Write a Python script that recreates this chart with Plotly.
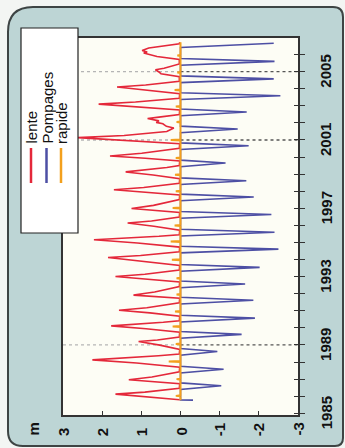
import plotly.graph_objects as go

# Décomposition du niveau piézométrique (m) en trois composantes
lente_t = [
    1985.79, 1985.97, 1986.12, 1986.24, 1986.36, 1986.46,
    1986.73, 1986.86, 1986.96, 1987.12, 1987.29, 1987.43,
    1987.70, 1987.94, 1988.13, 1988.25, 1988.37, 1988.47,
    1988.74, 1988.99, 1989.20, 1989.29, 1989.39, 1989.47,
    1989.74, 1989.95, 1990.12, 1990.23, 1990.33, 1990.42,
    1990.69, 1990.88, 1991.03, 1991.18, 1991.34, 1991.47,
    1991.74, 1991.84, 1991.92, 1992.10, 1992.27, 1992.42,
    1992.69, 1992.87, 1993.01, 1993.14, 1993.28, 1993.39,
    1993.66, 1993.91, 1994.12, 1994.24, 1994.36, 1994.46,
    1994.73, 1994.97, 1995.16, 1995.26, 1995.36, 1995.45,
    1995.72, 1995.95, 1996.14, 1996.26, 1996.39, 1996.49,
    1996.76, 1996.89, 1996.99, 1997.17, 1997.35, 1997.51,
    1997.78, 1997.95, 1998.09, 1998.22, 1998.35, 1998.46,
    1998.73, 1998.95, 1999.13, 1999.26, 1999.39, 1999.50,
    1999.77, 1999.93, 2000.06, 2000.22, 2000.38, 2000.51,
    2000.78, 2000.98, 2001.14, 2001.26, 2001.40, 2001.50,
    2001.70, 2001.80, 2001.95, 2002.03, 2002.12, 2002.26, 2002.34, 2002.49,
    2002.76, 2002.95, 2003.10, 2003.22, 2003.34, 2003.44,
    2003.71, 2003.92, 2004.10, 2004.22, 2004.33, 2004.43,
    2004.70, 2004.88, 2004.98, 2005.11, 2005.20, 2005.32, 2005.45,
    2005.72, 2005.89, 2005.99, 2006.09, 2006.15, 2006.24, 2006.38, 2006.52, 2006.63, 2006.72,
]
lente_v = [
    0.02, 0.83, 1.66, 0.91, 0.42, 0.03,
    0.02, 0.66, 1.32, 0.73, 0.33, 0.03,
    0.02, 1.12, 2.25, 1.24, 0.56, 0.03,
    0.02, 0.53, 1.07, 0.59, 0.27, 0.03,
    0.02, 0.88, 1.77, 0.97, 0.44, 0.03,
    0.02, 0.78, 1.57, 0.86, 0.39, 0.03,
    0.02, 0.60, 1.20, 0.66, 0.30, 0.03,
    0.02, 0.83, 1.66, 0.91, 0.42, 0.03,
    0.02, 0.93, 1.85, 1.02, 0.46, 0.03,
    0.02, 1.10, 2.21, 1.22, 0.55, 0.03,
    0.02, 0.68, 1.35, 0.74, 0.34, 0.03,
    0.02, 0.63, 1.25, 0.69, 0.31, 0.03,
    0.02, 0.85, 1.70, 0.94, 0.43, 0.03,
    0.02, 0.70, 1.40, 0.77, 0.35, 0.03,
    0.02, 0.90, 1.80, 0.99, 0.45, 0.03,
    0.02, 1.31, 2.62, 1.44, 0.70, 0.35,
    0.17, 0.36, 0.45, 0.62, 0.55, 0.84, 0.55, 0.03,
    0.02, 1.05, 2.09, 1.15, 0.52, 0.03,
    0.02, 0.81, 1.62, 0.89, 0.41, 0.03,
    0.03, 0.50, 0.55, 0.64, 0.42, 0.20, 0.03,
    0.03, 0.60, 0.77, 0.94, 0.85, 0.98, 0.81, 0.34, 0.03, 0.02,
]

pompages_t = [
    1985.77, 1985.78,
    1986.39, 1986.61, 1986.78,
    1987.36, 1987.58, 1987.75,
    1988.40, 1988.62, 1988.79,
    1989.40, 1989.62, 1989.79,
    1990.35, 1990.57, 1990.74,
    1991.40, 1991.62, 1991.79,
    1992.35, 1992.57, 1992.74,
    1993.32, 1993.54, 1993.71,
    1994.39, 1994.61, 1994.78,
    1995.38, 1995.60, 1995.77,
    1996.42, 1996.64, 1996.81,
    1997.44, 1997.66, 1997.83,
    1998.39, 1998.61, 1998.78,
    1999.43, 1999.65, 1999.82,
    2000.44, 2000.66, 2000.83,
    2001.42, 2001.64, 2001.81,
    2002.42, 2002.64, 2002.81,
    2003.37, 2003.59, 2003.76,
    2004.36, 2004.58, 2004.75,
    2005.38, 2005.60, 2005.77,
    2006.41, 2006.66,
]
pompages_v = [
    -0.32, 0.0,
    0.0, -1.04, 0.0,
    0.0, -1.10, 0.0,
    0.0, -0.94, 0.0,
    0.0, -1.56, 0.0,
    0.0, -1.90, 0.0,
    0.0, -1.86, 0.0,
    0.0, -1.65, 0.0,
    0.0, -2.02, 0.0,
    0.0, -2.50, 0.0,
    0.0, -2.40, 0.0,
    0.0, -2.32, 0.0,
    0.0, -1.87, 0.0,
    0.0, -1.68, 0.0,
    0.0, -1.15, 0.0,
    0.0, -1.74, 0.0,
    0.0, -1.46, 0.0,
    0.0, -1.69, 0.0,
    0.0, -2.55, 0.0,
    0.0, -2.38, 0.0,
    0.0, -2.40, 0.0,
    0.0, -2.38,
]

rapide_t = [
    1985.77,
    1985.99, 1986.02, 1986.05,
    1986.97, 1987.00, 1987.03,
    1988.00, 1988.03, 1988.06,
    1989.02, 1989.05, 1989.08,
    1990.05, 1990.08, 1990.11,
    1990.93, 1990.96, 1990.99,
    1991.92, 1991.95, 1991.98,
    1992.87, 1992.90, 1992.93,
    1993.96, 1993.99, 1994.02,
    1995.03, 1995.06, 1995.09,
    1995.97, 1996.00, 1996.03,
    1996.99, 1997.02, 1997.05,
    1997.97, 1998.00, 1998.03,
    1998.93, 1998.96, 1998.99,
    1999.91, 1999.94, 1999.97,
    2000.97, 2001.00, 2001.03,
    2002.02, 2002.05, 2002.08,
    2002.93, 2002.96, 2002.99,
    2003.89, 2003.92, 2003.95,
    2004.92, 2004.95, 2004.98,
    2005.92, 2005.95, 2005.98,
    2006.72,
]
rapide_v = [
    0.0,
    0.0, 0.12, 0.0,
    0.0, 0.10, 0.0,
    0.0, 0.30, 0.0,
    0.0, 0.12, 0.0,
    0.0, 0.20, 0.0,
    0.0, 0.14, 0.0,
    0.0, 0.10, 0.0,
    0.0, 0.10, 0.0,
    0.0, 0.22, 0.0,
    0.0, 0.25, 0.0,
    0.0, 0.15, 0.0,
    0.0, 0.20, 0.0,
    0.0, 0.12, 0.0,
    0.0, 0.14, 0.0,
    0.0, 0.12, 0.0,
    0.0, 0.25, 0.0,
    0.0, 0.10, 0.0,
    0.0, 0.12, 0.0,
    0.0, 0.15, 0.0,
    0.0, 0.08, 0.0,
    0.0, 0.08, 0.0,
    0.0,
]

annees_ticks = list(range(1985, 2007))
annees_labels = [1985, 1989, 1993, 1997, 2001, 2005]
valeurs_ticks = [3, 2, 1, 0, -1, -2, -3]
reperes = [1989, 2001, 2005]

noms = ["lente", "Pompages", "rapide"]
couleurs = ["#e4283a", "#4d4fa4", "#f3a01d"]

# Page geometry (pixels) and conversion to paper coordinates
W, H = 345, 448
ML, MR, MT, MB = 63, 47, 38, 33
PW, PH = W - ML - MR, H - MT - MB


def fx(p):
    return (p - ML) / PW


def fy(p):
    return (H - MB - p) / PH


FONT = "Liberation Sans, Arial, sans-serif"

fig = go.Figure()
fig.add_trace(go.Scatter(x=lente_v, y=lente_t, mode="lines", name=noms[0],
                         line=dict(color=couleurs[0], width=1.6), showlegend=False))
fig.add_trace(go.Scatter(x=pompages_v, y=pompages_t, mode="lines", name=noms[1],
                         line=dict(color=couleurs[1], width=1.6), showlegend=False))
fig.add_trace(go.Scatter(x=rapide_v, y=rapide_t, mode="lines", name=noms[2],
                         line=dict(color=couleurs[2], width=2), showlegend=False))
fig.add_trace(go.Scatter(x=[None], y=[None], yaxis="y2", showlegend=False,
                         hoverinfo="skip"))

shapes = []

# rounded panel behind the chart
L, T, R, B = 8, 7, 343, 446
rtl, rtr, rbr, rbl = 25, 10, 8, 15
path = (
    f"M {fx(L)},{fy(T + rtl)} Q {fx(L)},{fy(T)} {fx(L + rtl)},{fy(T)} "
    f"L {fx(R - rtr)},{fy(T)} Q {fx(R)},{fy(T)} {fx(R)},{fy(T + rtr)} "
    f"L {fx(R)},{fy(B - rbr)} Q {fx(R)},{fy(B)} {fx(R - rbr)},{fy(B)} "
    f"L {fx(L + rbl)},{fy(B)} Q {fx(L)},{fy(B)} {fx(L)},{fy(B - rbl)} Z"
)
shapes.append(dict(type="path", path=path, xref="paper", yref="paper",
                   fillcolor="#bdd5d5", line=dict(color="#3e4444", width=2),
                   layer="below"))
shapes.append(dict(type="rect", xref="paper", yref="paper", x0=0, x1=1, y0=0, y1=1,
                   fillcolor="#fdfdf5", line=dict(width=0), layer="below"))

# dotted reference years
for an in reperes:
    shapes.append(dict(type="line", xref="x", yref="y", x0=3, x1=0, y0=an, y1=an,
                       line=dict(color="#b5b5b5", width=1.3, dash="dot"), layer="below"))
    shapes.append(dict(type="line", xref="x", yref="y", x0=0, x1=-3, y0=an, y1=an,
                       line=dict(color="#555555", width=1.3, dash="dot"), layer="below"))

# legend box
shapes.append(dict(type="rect", xref="paper", yref="paper",
                   x0=fx(21), x1=fx(78), y0=fy(233), y1=fy(28),
                   fillcolor="white", line=dict(color="#222", width=1.2), layer="above"))

annotations = []
leg_x = [31, 46.5, 61]
for nom, c, lx in zip(noms, couleurs, leg_x):
    shapes.append(dict(type="line", xref="paper", yref="paper",
                       x0=fx(lx), x1=fx(lx), y0=fy(183), y1=fy(148),
                       line=dict(color=c, width=2.5), layer="above"))
    annotations.append(dict(text=nom, xref="paper", yref="paper", x=fx(lx), y=fy(146),
                            xanchor="center", yanchor="bottom", textangle=-90,
                            showarrow=False, font=dict(family=FONT, size=15, color="#111")))

# value labels and unit under the chart
for v in valeurs_ticks:
    annotations.append(dict(text=f"<b>{v}</b>", xref="x", yref="paper", x=v, y=fy(438),
                            xanchor="center", yanchor="bottom", textangle=-90,
                            showarrow=False, font=dict(family=FONT, size=15, color="#111")))
annotations.append(dict(text="<b>m</b>", xref="paper", yref="paper", x=fx(33), y=fy(438),
                        xanchor="center", yanchor="bottom", textangle=-90,
                        showarrow=False, font=dict(family=FONT, size=15, color="#111")))

# year labels on the right
for an in annees_labels:
    annotations.append(dict(text=f"<b>{an}</b>", xref="paper", yref="y", x=fx(326), y=an,
                            xanchor="center", yanchor="middle", textangle=-90,
                            showarrow=False, font=dict(family=FONT, size=15, color="#111")))

yrange = [1984.9, 2006.97]

fig.update_layout(
    width=W, height=H, autosize=False,
    margin=dict(l=ML, r=MR, t=MT, b=MB, pad=0),
    paper_bgcolor="#f3f5f3",
    plot_bgcolor="#fdfdf5",
    shapes=shapes,
    annotations=annotations,
    xaxis=dict(range=[3, -3], tickvals=valeurs_ticks, ticks="inside", ticklen=4,
               tickcolor="#333", tickwidth=1.2, showticklabels=False,
               showline=True, linecolor="#333", linewidth=1.5, mirror=True,
               showgrid=False, zeroline=False, fixedrange=True),
    yaxis=dict(range=yrange, side="right", tickvals=annees_ticks, ticks="outside",
               ticklen=5, tickcolor="#333", tickwidth=1.2, showticklabels=False,
               showline=True, linecolor="#333", linewidth=1.5, mirror=True,
               showgrid=False, zeroline=False, fixedrange=True),
    yaxis2=dict(range=yrange, overlaying="y", side="right", tickvals=annees_ticks,
                ticks="inside", ticklen=4, tickcolor="#333", tickwidth=1.2,
                showticklabels=False, showline=False, showgrid=False, zeroline=False,
                fixedrange=True),
)

fig.write_html("out.html")
